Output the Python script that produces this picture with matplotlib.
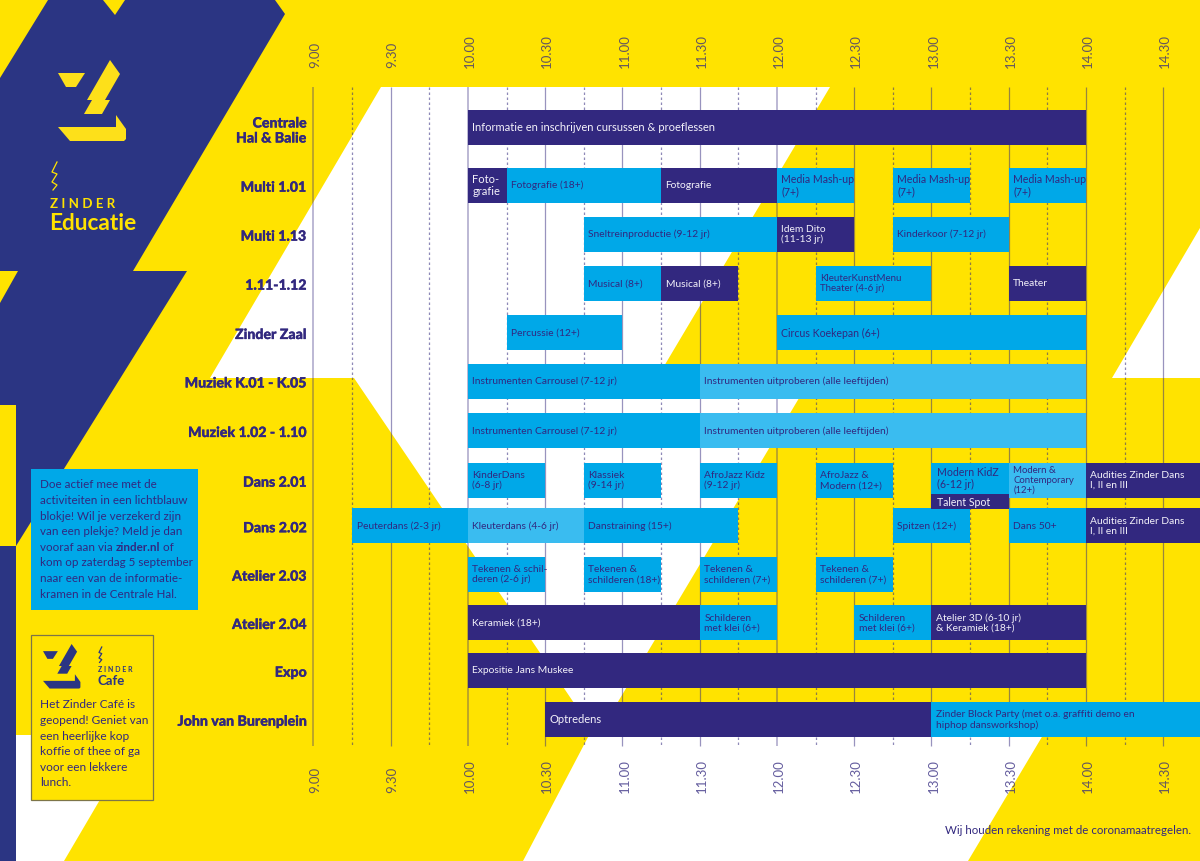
import matplotlib
matplotlib.use("Agg")
import matplotlib.pyplot as plt
import matplotlib.patheffects as pe
from matplotlib.patches import Polygon, Rectangle
from matplotlib.transforms import ScaledTranslation

plt.rcParams["font.family"] = ["Lato", "DejaVu Sans"]

YELLOW = "#ffe300"
NAVY = "#2b3583"
INK = "#32287f"
BLUE = "#00a8e8"
LIGHT = "#3abcf0"
FILL = {"dark": INK, "blue": BLUE, "light": LIGHT}

rooms = ["Centrale\nHal & Balie", "Multi 1.01", "Multi 1.13", "1.11-1.12", "Zinder Zaal",
         "Muziek K.01 - K.05", "Muziek 1.02 - 1.10", "Dans 2.01", "Dans 2.02",
         "Atelier 2.03", "Atelier 2.04", "Expo", "John van Burenplein"]

time_labels = ["9.00", "9.30", "10.00", "10.30", "11.00", "11.30", "12.00",
               "12.30", "13.00", "13.30", "14.00", "14.30"]
half_hours = [9, 9.5, 10, 10.5, 11, 11.5, 12, 12.5, 13, 13.5, 14, 14.5]
quarters = [9.25, 9.75, 10.25, 10.75, 11.25, 11.75, 12.25, 12.75, 13.25, 13.75, 14.25]

event_rooms = [0,
               1, 1, 1, 1, 1, 1,
               2, 2, 2,
               3, 3, 3, 3,
               4, 4,
               5, 5,
               6, 6,
               7, 7, 7, 7, 7, 7,
               8, 8, 8, 8, 8, 8,
               9, 9, 9, 9,
               10, 10, 10, 10,
               11,
               12, 12]
event_starts = [10,
                10, 10.25, 11.25, 12, 12.75, 13.5,
                10.75, 12, 12.75,
                10.75, 11.25, 12.25, 13.5,
                10.25, 12,
                10, 11.5,
                10, 11.5,
                10, 10.75, 11.5, 12.25, 13.5, 14,
                9.25, 10, 10.75, 12.75, 13.5, 14,
                10, 10.75, 11.5, 12.25,
                10, 11.5, 12.5, 13,
                10,
                10.5, 13]
event_ends = [14,
              10.25, 11.25, 12, 12.5, 13.25, 14,
              12, 12.5, 13.5,
              11.25, 11.75, 13, 14,
              11, 14,
              11.5, 14,
              11.5, 14,
              10.5, 11.25, 12, 12.75, 14, 15,
              10, 10.75, 11.75, 13.25, 14, 15,
              10.5, 11.25, 12, 12.75,
              11.5, 12, 13, 14,
              14,
              13, 15]
event_kinds = ["dark",
               "dark", "blue", "dark", "blue", "blue", "blue",
               "blue", "dark", "blue",
               "blue", "dark", "blue", "dark",
               "blue", "blue",
               "blue", "light",
               "blue", "light",
               "blue", "blue", "blue", "blue", "light", "dark",
               "blue", "light", "blue", "blue", "blue", "dark",
               "blue", "blue", "blue", "blue",
               "dark", "blue", "blue", "dark",
               "dark",
               "dark", "blue"]
event_labels = ["Informatie en inschrijven cursussen & proeflessen",
                "Foto-\ngrafie", "Fotografie (18+)", "Fotografie", "Media Mash-up\n(7+)",
                "Media Mash-up\n(7+)", "Media Mash-up\n(7+)",
                "Sneltreinproductie (9-12 jr)", "Idem Dito\n(11-13 jr)", "Kinderkoor (7-12 jr)",
                "Musical (8+)", "Musical (8+)", "KleuterKunstMenu\nTheater (4-6 jr)", "Theater",
                "Percussie (12+)", "Circus Koekepan (6+)",
                "Instrumenten Carrousel (7-12 jr)", "Instrumenten uitproberen (alle leeftijden)",
                "Instrumenten Carrousel (7-12 jr)", "Instrumenten uitproberen (alle leeftijden)",
                "KinderDans\n(6-8 jr)", "Klassiek\n(9-14 jr)", "AfroJazz Kidz\n(9-12 jr)",
                "AfroJazz &\nModern (12+)", "Modern &\nContemporary\n(12+)",
                "Audities Zinder Dans\nI, II en III",
                "Peuterdans (2-3 jr)", "Kleuterdans (4-6 jr)", "Danstraining (15+)", "Spitzen (12+)",
                "Dans 50+", "Audities Zinder Dans\nI, II en III",
                "Tekenen & schil-\nderen (2-6 jr)", "Tekenen &\nschilderen (18+)",
                "Tekenen &\nschilderen (7+)", "Tekenen &\nschilderen (7+)",
                "Keramiek (18+)", "Schilderen\nmet klei (6+)", "Schilderen\nmet klei (6+)",
                "Atelier 3D (6-10 jr)\n& Keramiek (18+)",
                "Expositie Jans Muskee",
                "Optredens", "Zinder Block Party (met o.a. graffiti demo en\nhiphop dansworkshop)"]

# the one slot that is split in two stacked blocks
split_labels = ["Modern KidZ\n(6-12 jr)", "Talent Spot"]
split_start = 13
split_end = 13.5

info_lines = ["Doe actief mee met de", "activiteiten in een lichtblauw", "blokje! Wil je verzekerd zijn",
              "van een plekje? Meld je dan", "vooraf aan via ", "kom op zaterdag 5 september",
              "naar een van de informatie-", "kramen in de Centrale Hal."]
cafe_lines = ["Het Zinder Café is", "geopend! Geniet van", "een heerlijke kop",
              "koffie of thee of ga", "voor een lekkere", "lunch."]

# pixel layout of the poster
row_tops = [109.5, 167.7, 216.7, 265.7, 315, 363.5, 413, 462.7, 508.3, 556.7, 605, 652.7, 701.7]
row_h = 35
W, H = 1200, 861
x0, y0, y1 = 313.5, 87, 746
px_per_hour = 154.5

# labels set tighter or looser than the rest on the poster
label_size = {"Informatie en inschrijven cursussen & proeflessen": 8, "Optredens": 8,
              "Circus Koekepan (6+)": 7.6, "Foto-\ngrafie": 8,
              "Media Mash-up\n(7+)": 7.6, "Modern &\nContemporary\n(12+)": 6.9,
              "KleuterKunstMenu\nTheater (4-6 jr)": 7}

fig = plt.figure(figsize=(12, 8.61), dpi=100)

# background shapes, in pixels
bg = fig.add_axes([0, 0, 1, 1])
bg.set_xlim(0, W)
bg.set_ylim(H, 0)
bg.axis("off")
bg.add_patch(Rectangle((0, 0), W, H, color=YELLOW, lw=0))

white_shapes = [
    [(381, 87), (830, 87), (657, 378), (811, 378), (597, 737), (354, 378), (210, 378)],
    [(523, 861), (968, 861), (1052, 720), (597, 720)],
    [(1112, 378), (1200, 378), (1200, 228)],
    [(16, 735), (138, 735), (64, 861), (16, 861)],
]
for pts in white_shapes:
    bg.add_patch(Polygon(pts, closed=True, color="white", lw=0))

bg.add_patch(Polygon([(48, 0), (103, 0), (115, 15), (125, 0), (275, 0), (285, 14), (133, 271), (187, 271),
                      (16, 546), (16, 405), (0, 405), (0, 303), (18, 271), (0, 271), (0, 78)],
                     closed=True, color=NAVY, lw=0))
bg.add_patch(Rectangle((0, 546), 16, H - 546, color=NAVY, lw=0))


def logo(ox, oy, s, color):
    top = [(58, 73), (85, 73), (76, 87), (66, 87)]
    bolt = [(110, 60), (120, 74), (105, 100), (110, 100), (102, 114), (84, 114), (92, 100), (87, 100)]
    base = [(58, 127), (116, 127), (116, 115), (126, 129), (126, 139), (124, 141), (70, 141)]
    for pts in (top, bolt, base):
        pts = [(ox + (x - 58) * s, oy + (y - 60) * s) for x, y in pts]
        bg.add_patch(Polygon(pts, closed=True, color=color, lw=0))


def zigzag(ox, oy, s, color):
    xs = [5, 0, 5, 0, 5, 1]
    ys = [0, 10, 12, 20, 23, 28]
    bg.plot([ox + x * s for x in xs], [oy + y * s for y in ys], color=color, lw=0.9)


logo(58, 60, 1, "#fde01a")
zigzag(52, 162, 1, YELLOW)
bg.text(50, 204, "Z I N D E R", color=YELLOW, fontsize=9.6, fontweight="bold", va="center")
bg.text(49, 224, "Educatie", color=YELLOW, fontsize=16.3, fontweight="bold", va="center")

# info box
bg.add_patch(Rectangle((31, 469), 167, 141, color=BLUE, lw=0))
for i, line in enumerate(info_lines):
    t = bg.text(40, 485 + i * 15.6, line, color=INK, fontsize=8.4, va="center")
    if i == 4:
        t2 = bg.annotate("zinder.nl", xy=(1, 0), xycoords=t, va="bottom", color=INK,
                         fontsize=8.4, fontweight="bold")
        bg.annotate(" of", xy=(1, 0), xycoords=t2, va="bottom", color=INK, fontsize=8.4)

# cafe box
bg.add_patch(Rectangle((31, 635), 122, 165, facecolor=YELLOW, edgecolor="#7d7548", lw=0.9))
logo(43, 644, 0.55, NAVY)
zigzag(99, 647, 0.55, NAVY)
bg.text(98, 670, "Z I N D E R", color=NAVY, fontsize=5, fontweight="bold", va="center")
bg.text(98, 681, "Cafe", color=NAVY, fontsize=9.5, fontweight="bold", va="center")
for i, line in enumerate(cafe_lines):
    bg.text(40, 705 + i * 15.6, line, color=INK, fontsize=8.6, va="center")

bg.text(1191, 830, "Wij houden rekening met de coronamaatregelen.", color=INK,
        fontsize=8.3, ha="right", va="center")

# the schedule itself: x in hours, y in poster pixels
ax = fig.add_axes([x0 / W, 1 - y1 / H, (W - x0) / W, (y1 - y0) / H])
ax.patch.set_alpha(0)
ax.set_xlim(9, 9 + (W - x0) / px_per_hour)
ax.set_ylim(y1, y0)
for s in ax.spines.values():
    s.set_visible(False)

for hour in half_hours:
    heavy = hour in (9, 10, 12)
    ax.vlines(hour, y0, y1, color=INK, alpha=0.33 if heavy else 0.5, lw=1.4 if heavy else 0.9,
              zorder=1, clip_on=False)
ax.vlines(quarters, y0, y1, color=INK, alpha=0.55, lw=0.9, linestyles=(0, (2, 2)), zorder=1)

for room, start, end, kind, label in zip(event_rooms, event_starts, event_ends, event_kinds, event_labels):
    top = row_tops[room]
    ax.barh(top + row_h / 2, end - start, left=start, height=row_h, color=FILL[kind], zorder=2)
    ax.text(start + 4.5 / px_per_hour, top + row_h / 2 + 0.5, label, fontsize=label_size.get(label, 7.35),
            va="center", ha="left", linespacing=1.12, color="#f4f2fa" if kind == "dark" else INK,
            zorder=3, clip_on=True)

split_top = row_tops[7]
ax.barh(split_top + 15.5, split_end - split_start, left=split_start, height=31, color=BLUE, zorder=2)
ax.barh(split_top + 38.5, split_end - split_start, left=split_start, height=15, color=INK, zorder=2)
ax.text(split_start + 5.5 / px_per_hour, split_top + 15.5, split_labels[0], fontsize=7.6, va="center",
        linespacing=1.12, color=INK, zorder=3)
ax.text(split_start + 5.5 / px_per_hour, split_top + 39.5, split_labels[1], fontsize=7.6, va="center",
        color="#f4f2fa", zorder=3)

# time labels above and below; the lower ones end on a common line
nudge = ScaledTranslation(2 / 100, 0, fig.dpi_scale_trans)
ax.set_xticks(half_hours)
ax.set_xticklabels(time_labels, rotation=90, fontsize=9.5, color=INK, alpha=0.75)
ax.tick_params(axis="x", length=0, pad=13.5, top=False, bottom=False, labeltop=True, labelbottom=False)
for tick in ax.xaxis.get_major_ticks():
    tick.label2.set_transform(tick.label2.get_transform() + nudge)

low = ax.secondary_xaxis("bottom")
low.set_xticks(half_hours)
low.set_xticklabels(time_labels, rotation=90, fontsize=9.5, color=INK, alpha=0.75)
low.tick_params(axis="x", length=0, pad=34)
low.spines["bottom"].set_visible(False)
for tick in low.xaxis.get_major_ticks():
    tick.label1.set_verticalalignment("bottom")
    tick.label1.set_transform(tick.label1.get_transform() + nudge)

ax.set_yticks([t + row_h / 2 + 1.5 for t in row_tops])
ax.set_yticklabels(rooms, fontsize=10.2, fontweight=900, color=INK, linespacing=1.3)
ax.tick_params(axis="y", length=0, pad=5)
for lab in ax.get_yticklabels():
    lab.set_path_effects([pe.withStroke(linewidth=0.2, foreground=INK)])

fig.savefig("out.png", dpi=100)
